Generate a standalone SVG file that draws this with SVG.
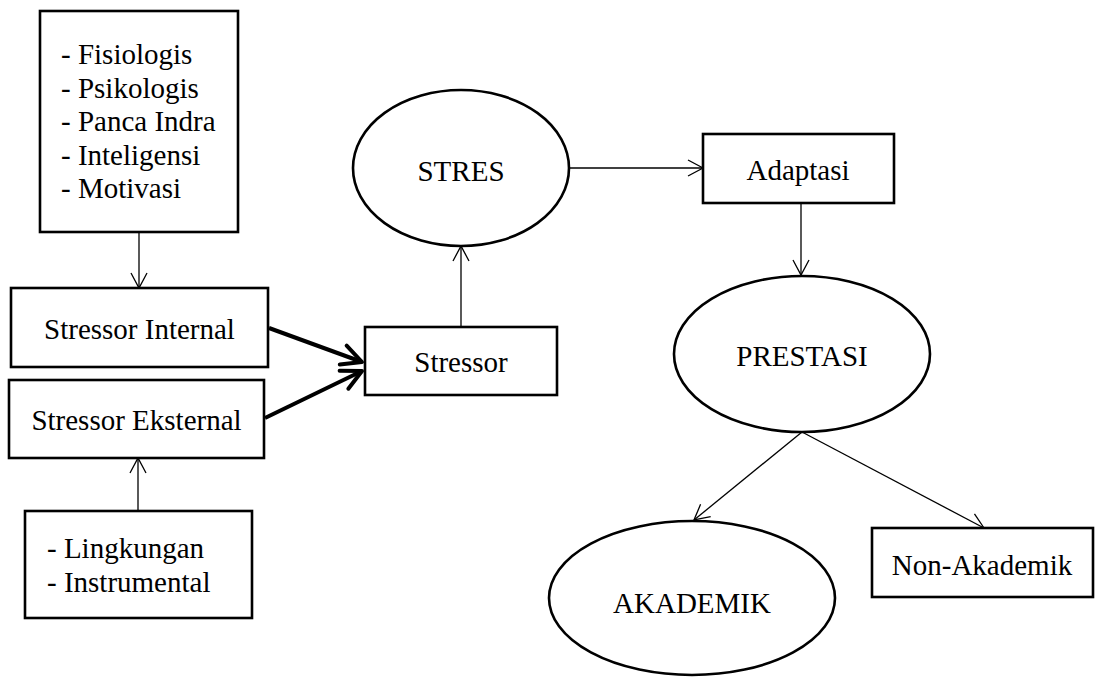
<svg xmlns="http://www.w3.org/2000/svg" width="1099" height="677" viewBox="0 0 1099 677">
<defs>
<marker id="arr" markerUnits="userSpaceOnUse" markerWidth="20" markerHeight="20" refX="15" refY="8" orient="auto" overflow="visible">
<path d="M0,0 L15,8 L0,16" fill="none" stroke="#000" stroke-width="1.3"/>
</marker>
<marker id="arrB" markerUnits="userSpaceOnUse" markerWidth="26" markerHeight="24" refX="20" refY="10" orient="auto" overflow="visible">
<path d="M0,0 L20,10 L0,20" fill="none" stroke="#000" stroke-width="4" stroke-linecap="round" stroke-linejoin="round"/>
</marker>
<style>
.box{fill:#fff;stroke:#000;stroke-width:2.6}
.t{font-family:"Liberation Serif","Times New Roman",serif;font-size:29px;fill:#000}
.m{text-anchor:middle}
.c{fill:none;stroke:#000;stroke-width:1.3;marker-end:url(#arr)}
.cb{fill:none;stroke:#000;stroke-width:4;marker-end:url(#arrB)}
</style>
</defs>
<rect width="1099" height="677" fill="#fff"/>
<g id="connectors">
<line class="c" x1="139" y1="232" x2="139" y2="288"/>
<line class="c" x1="138" y1="511" x2="138" y2="458"/>
<line class="cb" x1="269" y1="328" x2="362" y2="362"/>
<line class="cb" x1="265" y1="418" x2="362" y2="371"/>
<line class="c" x1="461" y1="327" x2="461" y2="246"/>
<line class="c" x1="569" y1="168" x2="703" y2="168"/>
<line class="c" x1="801" y1="203" x2="801" y2="275"/>
<line class="c" x1="802" y1="432" x2="694" y2="520"/>
<line class="c" x1="802" y1="432" x2="984" y2="528"/>
</g>
<g id="faktor-internal">
<rect class="box" x="40" y="11" width="198" height="221"/>
<text class="t" x="61" y="64">- Fisiologis</text>
<text class="t" x="61" y="97.5">- Psikologis</text>
<text class="t" x="61" y="131">- Panca Indra</text>
<text class="t" x="61" y="164.5">- Inteligensi</text>
<text class="t" x="61" y="198">- Motivasi</text>
</g>
<g id="stressor-internal">
<rect class="box" x="11" y="288" width="257" height="79"/>
<text class="t m" x="139.5" y="339">Stressor Internal</text>
</g>
<g id="stressor-eksternal">
<rect class="box" x="9" y="380" width="255" height="78"/>
<text class="t m" x="136.5" y="430">Stressor Eksternal</text>
</g>
<g id="faktor-eksternal">
<rect class="box" x="25" y="511" width="227" height="107"/>
<text class="t" x="47" y="558">- Lingkungan</text>
<text class="t" x="47" y="592">- Instrumental</text>
</g>
<g id="stressor">
<rect class="box" x="365" y="327" width="192" height="68"/>
<text class="t m" x="461" y="372">Stressor</text>
</g>
<g id="stres">
<ellipse class="box" cx="461" cy="168" rx="108" ry="78"/>
<text class="t m" x="461" y="181">STRES</text>
</g>
<g id="adaptasi">
<rect class="box" x="703" y="134" width="191" height="69"/>
<text class="t m" x="798" y="180">Adaptasi</text>
</g>
<g id="prestasi">
<ellipse class="box" cx="802" cy="354" rx="128" ry="78"/>
<text class="t m" x="802" y="366">PRESTASI</text>
</g>
<g id="akademik">
<ellipse class="box" cx="692" cy="598" rx="143" ry="77"/>
<text class="t m" x="692" y="613">AKADEMIK</text>
</g>
<g id="non-akademik">
<rect class="box" x="872" y="528" width="221" height="69"/>
<text class="t m" x="982" y="575">Non-Akademik</text>
</g>
</svg>
